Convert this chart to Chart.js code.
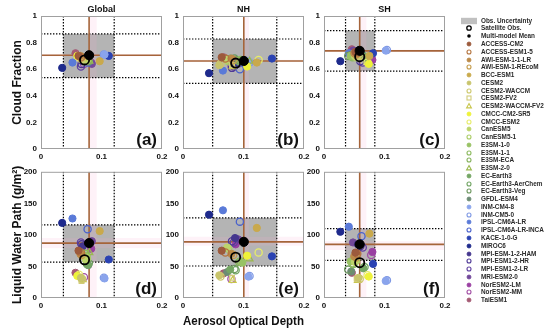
<!DOCTYPE html>
<html><head><meta charset="utf-8">
<script src="https://cdn.jsdelivr.net/npm/chart.js@4.4.1/dist/chart.umd.min.js"></script>
<style>
html,body{margin:0;padding:0;background:#fff;width:550px;height:333px;overflow:hidden;position:relative;font-family:"Liberation Sans",Arial,sans-serif}
canvas{position:absolute}
.lt{position:absolute;left:481px;height:8px;line-height:8px;font:bold 6.4px "Liberation Sans",Arial,sans-serif;color:#2a2a2a;white-space:nowrap}
.lm{position:absolute}
</style></head><body>
<canvas id="c0"></canvas><canvas id="c1"></canvas><canvas id="c2"></canvas>
<canvas id="c3"></canvas><canvas id="c4"></canvas><canvas id="c5"></canvas>
<script>
// ---------------- DATA ----------------
const models = ['ACCESS-CM2','ACCESS-ESM1-5','AWI-ESM-1-1-LR','AWI-ESM-1-REcoM','BCC-ESM1','CESM2','CESM2-WACCM','CESM2-FV2','CESM2-WACCM-FV2','CMCC-CM2-SR5','CMCC-ESM2','CanESM5','CanESM5-1','E3SM-1-0','E3SM-1-1','E3SM-ECA','E3SM-2-0','EC-Earth3','EC-Earth3-AerChem','EC-Earth3-Veg','GFDL-ESM4','INM-CM4-8','INM-CM5-0','IPSL-CM6A-LR','IPSL-CM6A-LR-INCA','KACE-1-0-G','MIROC6','MPI-ESM-1-2-HAM','MPI-ESM1-2-HR','MPI-ESM1-2-LR','MRI-ESM2-0','NorESM2-LM','NorESM2-MM','TaiESM1'];
const modelColors = ['#9c5a3c','#b4743f','#bb8a48','#c49c4c','#c9a94c','#c8c46c','#cdc86c','#d2cc7a','#c8c64c','#eef23a','#e6ec6a','#bcd46a','#aacc66','#98c264','#8cba5e','#86b25c','#9ab84e','#74a664','#70a462','#6e9860','#6c8c74','#8aa4ec','#7e98e4','#5a7ad8','#4a62cc','#2a42b2','#1e2a8c','#44368e','#4e3896','#6040a0','#72489a','#9a40a2','#a24ea4','#a45a74'];
const modelFilled = [1,0,1,0,1,1,0,0,0,1,0,1,0,1,0,0,0,1,0,0,1,1,0,1,0,1,1,1,0,0,1,1,0,1];
const modelShapes = ['circle','circle','circle','circle','circle','circle','circle','rect','triangle','circle','circle','circle','circle','circle','circle','circle','triangle','circle','circle','circle','circle','circle','circle','circle','circle','circle','circle','circle','circle','circle','circle','circle','circle','circle'];

const panelTitles = ['Global','NH','SH'];
const panelLetters = ['(a)','(b)','(c)','(d)','(e)','(f)'];

// Global (a, d)
const aodGlobal = [0.062,0.066,0.065,0.067,0.097,0.066,0.068,0.067,0.069,0.060,0.063,0.074,0.076,0.072,0.074,0.075,0.080,0.077,0.079,0.076,0.078,0.105,0.104,0.052,0.077,0.112,0.035,0.069,0.067,0.066,0.084,0.083,0.071,0.057];
const cfGlobal  = [0.70,0.69,0.70,0.69,0.66,0.69,0.68,0.67,0.68,0.70,0.69,0.66,0.67,0.68,0.67,0.68,0.66,0.67,0.66,0.67,0.68,0.71,0.71,0.65,0.65,0.70,0.61,0.66,0.64,0.62,0.64,0.65,0.64,0.72];
const lwpGlobal = [75,72,70,68,106,32,30,27,29,35,37,61,63,67,70,66,72,53,55,54,52,31,32,126,109,61,119,82,85,88,90,78,33,40];
// NH (b, e)
const aodNH = [0.064,0.070,0.080,0.083,0.122,0.060,0.062,0.081,0.082,0.106,0.125,0.073,0.075,0.098,0.095,0.093,0.110,0.078,0.087,0.085,0.073,0.108,0.110,0.066,0.094,0.147,0.043,0.086,0.081,0.084,0.091,0.087,0.080,0.067];
const cfNH  = [0.69,0.68,0.68,0.67,0.65,0.63,0.64,0.63,0.62,0.62,0.67,0.67,0.66,0.66,0.67,0.66,0.66,0.68,0.67,0.68,0.67,0.66,0.65,0.59,0.60,0.68,0.57,0.63,0.61,0.62,0.64,0.66,0.63,0.69];
const lwpNH = [75,72,70,68,111,36,34,32,28,67,72,80,78,56,58,57,62,45,44,46,41,34,35,139,121,66,132,95,90,88,93,85,30,39];
// SH (c, f)
const aodSH = [0.052,0.055,0.050,0.053,0.075,0.057,0.059,0.054,0.056,0.074,0.072,0.051,0.053,0.044,0.047,0.049,0.052,0.065,0.067,0.040,0.045,0.102,0.104,0.041,0.062,0.081,0.027,0.056,0.060,0.064,0.048,0.080,0.078,0.046];
const cfSH  = [0.73,0.72,0.72,0.71,0.70,0.71,0.70,0.69,0.69,0.64,0.65,0.70,0.69,0.70,0.69,0.70,0.71,0.70,0.69,0.70,0.71,0.74,0.745,0.72,0.71,0.72,0.66,0.74,0.66,0.65,0.74,0.67,0.68,0.75];
const lwpSH = [72,70,66,64,102,32,30,31,28,34,36,57,59,58,55,54,60,47,49,45,42,27,28,113,98,54,105,85,82,80,88,73,68,40];

// Satellite obs & multi-model mean per region [Global, NH, SH]
const obsAOD = [0.072,0.087,0.059];
const obsCF  = [0.670,0.646,0.694];
const obsLWP = [60.6,64.7,56];
const meanAOD = [0.0795,0.1005,0.059];
const meanCF  = [0.705,0.662,0.738];
const meanLWP = [87,89,85];
// observational uncertainty ranges
const obsAODRange = [[0.037,0.121],[0.049,0.155],[0.0356,0.084]];
const obsCFRange  = [[0.536,0.865],[0.494,0.827],[0.586,0.890]];
const obsLWPRange = [[57,116],[50.7,127],[59.7,110]];
// multi-model spread bands
const meanAODBand = [[0.0795,0.092],[0.1005,0.109],[0.059,0.070]];
const meanCFBand  = [[0.697,0.713],[0.654,0.670],[0.730,0.746]];
const meanLWPBand = [[79,95],[83,97],[76,90]];
// ticks
const xTicks = [0,0.1,0.2];
const cfTicks = [0,0.2,0.4,0.6,0.8,1];
const lwpTicks = [0,50,100,150,200];

// ---------------- LAYOUT / STYLE ----------------
const FAM = '"Liberation Sans", Arial, Helvetica, sans-serif';
const colLeft = [41,183,324];
const plotW = 121;
const yAxisW = [41,30,30];

const refPlugin = {
  id:'refs',
  beforeDatasetsDraw(chart, args, o){
    const {ctx, chartArea:a, scales:{x,y}} = chart;
    const px = v=>x.getPixelForValue(v), py = v=>y.getPixelForValue(v);
    ctx.save();
    ctx.beginPath(); ctx.rect(a.left,a.top,a.width,a.height); ctx.clip();
    ctx.fillStyle = '#b4b4b4';
    ctx.fillRect(px(o.xr[0]), py(o.yr[1]), px(o.xr[1])-px(o.xr[0]), py(o.yr[0])-py(o.yr[1]));
    ctx.fillStyle = 'rgba(245,170,205,0.15)';
    ctx.fillRect(px(o.xb[0]), a.top, px(o.xb[1])-px(o.xb[0]), a.height);
    ctx.fillRect(a.left, py(o.yb[1]), a.width, py(o.yb[0])-py(o.yb[1]));
    ctx.strokeStyle = '#000'; ctx.lineWidth = 1.2; ctx.setLineDash([1.4,1.6]);
    o.xr.forEach(v=>{ctx.beginPath(); ctx.moveTo(px(v),a.top); ctx.lineTo(px(v),a.bottom); ctx.stroke();});
    o.yr.forEach(v=>{ctx.beginPath(); ctx.moveTo(a.left,py(v)); ctx.lineTo(a.right,py(v)); ctx.stroke();});
    ctx.setLineDash([]); ctx.strokeStyle = '#a5643a'; ctx.lineWidth = 1.6;
    ctx.beginPath(); ctx.moveTo(px(o.xm),a.top); ctx.lineTo(px(o.xm),a.bottom); ctx.stroke();
    ctx.beginPath(); ctx.moveTo(a.left,py(o.ym)); ctx.lineTo(a.right,py(o.ym)); ctx.stroke();
    ctx.restore();
  },
  afterDraw(chart, args, o){
    const {ctx, chartArea:a} = chart;
    ctx.save();
    ctx.strokeStyle = '#a0a0a0'; ctx.lineWidth = 1;
    ctx.strokeRect(a.left+0.5, a.top+0.5, a.width-1, a.height-1);
    ctx.fillStyle = '#111';
    ctx.font = 'bold 17px ' + FAM; ctx.textAlign = 'right'; ctx.textBaseline = 'alphabetic';
    ctx.fillText(o.letter, a.right-5, a.bottom-4.5);
    if (o.title){
      ctx.font = 'bold 9px ' + FAM; ctx.textAlign = 'center'; ctx.textBaseline = 'middle';
      ctx.fillText(o.title, (a.left+a.right)/2, a.top-6);
    }
    ctx.restore();
  }
};

const regionAOD = [aodGlobal, aodNH, aodSH];
const regionCF = [cfGlobal, cfNH, cfSH];
const regionLWP = [lwpGlobal, lwpNH, lwpSH];

function makeChart(row, col){
  const top = row === 0;
  const idx = row*3 + col;
  const cv = document.getElementById('c'+idx);
  const W = yAxisW[col] + plotW + 9;
  const H = top ? 163 : 170;
  cv.width = W; cv.height = H;
  cv.style.left = (colLeft[col]-yAxisW[col])+'px';
  cv.style.top = (top ? 0 : 163)+'px';
  cv.style.width = W+'px'; cv.style.height = H+'px';
  const yv = top ? regionCF[col] : regionLWP[col];
  const ds = [];
  ds.push({label:'Multi-model Mean', data:[{x:meanAOD[col], y: top?meanCF[col]:meanLWP[col]}], pointStyle:'circle', pointRadius:4.6, backgroundColor:'#000', borderColor:'#000', borderWidth:1});
  ds.push({label:'Satellite Obs.', data:[{x:obsAOD[col], y: top?obsCF[col]:obsLWP[col]}], pointStyle:'circle', pointRadius:4.6, backgroundColor:'rgba(0,0,0,0)', borderColor:'#000', borderWidth:1.8});
  models.forEach((m,i)=>{
    const shape = modelShapes[i];
    ds.push({label:m, data:[{x:regionAOD[col][i], y:yv[i]}], pointStyle:shape,
      pointRadius: shape==='rect'?3.3:(shape==='triangle'?3.9:3.6),
      backgroundColor: modelFilled[i]?modelColors[i]:'rgba(0,0,0,0)',
      borderColor: modelColors[i], borderWidth: modelFilled[i]?1:1.3});
  });
  const tickFont = {family:FAM, size:8, weight:'bold'};
  return new Chart(cv, {
    type:'scatter',
    data:{datasets:ds},
    plugins:[refPlugin],
    options:{
      responsive:false, animation:false, devicePixelRatio:1,
      layout:{padding:{top: top?16:2, right:9, left:0, bottom:0}},
      plugins:{legend:{display:false}, tooltip:{enabled:false},
        refs:{letter: panelLetters[idx], title: top?panelTitles[col]:null,
          xr: obsAODRange[col], yr: top?obsCFRange[col]:obsLWPRange[col],
          xb: meanAODBand[col], yb: top?meanCFBand[col]:meanLWPBand[col],
          xm: meanAOD[col], ym: top?meanCF[col]:meanLWP[col]}},
      scales:{
        x:{type:'linear', min:0, max:0.2,
          afterBuildTicks: s=>{ s.ticks = xTicks.map(v=>({value:v})); },
          afterFit: s=>{ s.height = top?14:35; },
          grid:{display:false, drawTicks:false}, border:{display:false},
          ticks:{padding:2.5, font:tickFont, color:'#111', autoSkip:false, maxRotation:0, callback:v=>String(v)},
          title:{display: (!top && col===1), text:'Aerosol Optical Depth', color:'#111', font:{family:FAM, size:12, weight:'bold'}, padding:{top:0,bottom:3.8}}},
        y:{type:'linear', min:0, max: top?1:200,
          afterBuildTicks: s=>{ s.ticks = (top?cfTicks:lwpTicks).map(v=>({value:v})); },
          afterFit: s=>{ s.width = yAxisW[col]; },
          grid:{display:false, drawTicks:false}, border:{display:false},
          ticks:{padding:4, font:tickFont, color:'#111', autoSkip:false, callback:v=>String(v)},
          title:{display: col===0, text: top?'Cloud Fraction':'Liquid Water Path (g/m²)', color:'#111', font:{family:FAM, size:12, weight:'bold'}, padding:{top:10,bottom:0}}}
      }
    }
  });
}
for (let r=0;r<2;r++) for (let c=0;c<3;c++) makeChart(r,c);

// ---------------- LEGEND ----------------
const legendItems = [{label:'Obs. Uncertainty', kind:'patch'},{label:'Satellite Obs.', kind:'obs'},{label:'Multi-model Mean', kind:'mean'}]
  .concat(models.map((m,i)=>({label:m, kind:'model', i})));
const NS = 'http://www.w3.org/2000/svg';
legendItems.forEach((it,k)=>{
  const yc = 20.7 + k*7.76;
  const svg = document.createElementNS(NS,'svg');
  svg.setAttribute('class','lm'); svg.setAttribute('width','18'); svg.setAttribute('height','8');
  svg.style.left = '460px'; svg.style.top = (yc-4)+'px';
  let el;
  if (it.kind==='patch'){
    el = document.createElementNS(NS,'rect');
    el.setAttribute('x','1'); el.setAttribute('y','0.8'); el.setAttribute('width','16'); el.setAttribute('height','6.4'); el.setAttribute('fill','#c0c0c0');
  } else if (it.kind==='obs'){
    el = document.createElementNS(NS,'circle');
    el.setAttribute('cx','9'); el.setAttribute('cy','4'); el.setAttribute('r','2.2'); el.setAttribute('fill','none'); el.setAttribute('stroke','#000'); el.setAttribute('stroke-width','1.3');
  } else if (it.kind==='mean'){
    el = document.createElementNS(NS,'circle');
    el.setAttribute('cx','9'); el.setAttribute('cy','4'); el.setAttribute('r','1.8'); el.setAttribute('fill','#000');
  } else {
    const i = it.i, col = modelColors[i], f = modelFilled[i], sh = modelShapes[i];
    if (sh==='rect'){
      el = document.createElementNS(NS,'rect');
      el.setAttribute('x','7'); el.setAttribute('y','2'); el.setAttribute('width','4'); el.setAttribute('height','4');
    } else if (sh==='triangle'){
      el = document.createElementNS(NS,'path');
      el.setAttribute('d','M9 1.6 L11.4 5.9 L6.6 5.9 Z');
    } else {
      el = document.createElementNS(NS,'circle');
      el.setAttribute('cx','9'); el.setAttribute('cy','4'); el.setAttribute('r','2');
    }
    el.setAttribute('fill', f?col:'none'); el.setAttribute('stroke', col); el.setAttribute('stroke-width', f?'0.8':'1.1');
  }
  svg.appendChild(el);
  document.body.appendChild(svg);
  const t = document.createElement('div');
  t.className = 'lt'; t.style.top = (yc-4)+'px'; t.textContent = it.label;
  document.body.appendChild(t);
});
</script></body></html>
